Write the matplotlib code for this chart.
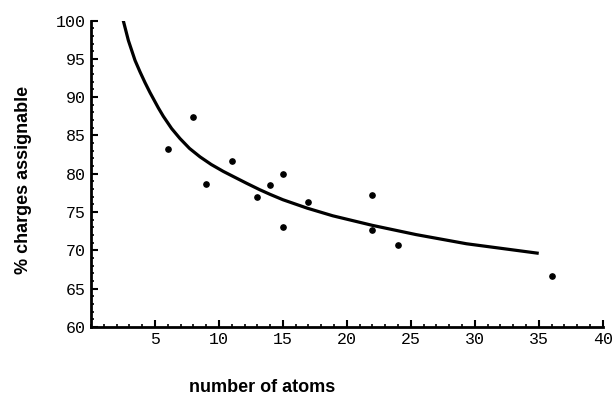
import matplotlib
matplotlib.use('Agg')
import matplotlib.pyplot as plt
from matplotlib.ticker import MultipleLocator

# measured points
atoms = [6, 8, 9, 11, 13, 14, 15, 15, 17, 22, 22, 24, 36]
charges = [83.2, 87.4, 78.7, 81.7, 76.9, 78.5, 79.9, 73.1, 76.3, 77.2, 72.6, 70.7, 66.6]

# fitted curve
curve_x = [2.52, 2.92, 3.44, 3.83, 4.22, 4.61, 5.26, 5.65, 6.3, 6.95, 7.7, 8.52, 9.4,
           10.34, 11.1, 12.16, 13.2, 14.0, 15.0, 16.9, 18.9, 22.0, 25.4, 29.35, 35.0]
curve_y = [100.0, 97.4, 94.8, 93.3, 91.9, 90.6, 88.6, 87.5, 85.9, 84.6, 83.3, 82.2, 81.2,
           80.3, 79.65, 78.75, 77.9, 77.3, 76.6, 75.5, 74.5, 73.25, 72.05, 70.85, 69.6]

fig = plt.figure(figsize=(6.15, 4.03), dpi=100)
ax = fig.add_axes([0.148, 0.189, 0.832, 0.760])

ax.plot(curve_x, curve_y, color='black', lw=2.3, solid_capstyle='butt', solid_joinstyle='round')
ax.plot(atoms, charges, 'o', color='black', ms=3.8)

ax.set_xlim(0, 40)
ax.set_ylim(60, 100)
ax.xaxis.set_minor_locator(MultipleLocator(1))
ax.yaxis.set_major_locator(MultipleLocator(5))
ax.yaxis.set_minor_locator(MultipleLocator(1))
ax.set_xticks([5, 10, 15, 20, 25, 30, 35, 40])

for s in ['top', 'right']:
    ax.spines[s].set_visible(False)
for s in ['left', 'bottom']:
    ax.spines[s].set_linewidth(2)

ax.tick_params(which='major', direction='in', length=5, width=1.5, labelsize=12, pad=4)
ax.tick_params(which='minor', direction='in', length=2.5, width=1.2)
for lab in ax.get_xticklabels() + ax.get_yticklabels():
    lab.set_family('Liberation Mono')

ax.set_xlabel('number of atoms', fontsize=13, fontweight='bold', family='Liberation Sans')
ax.xaxis.set_label_coords(0.335, -0.17)
ax.set_ylabel('% charges assignable', fontsize=13, fontweight='bold', family='Liberation Sans')
ax.yaxis.set_label_coords(-0.115, 0.48)

fig.savefig('out.png', dpi=100)
